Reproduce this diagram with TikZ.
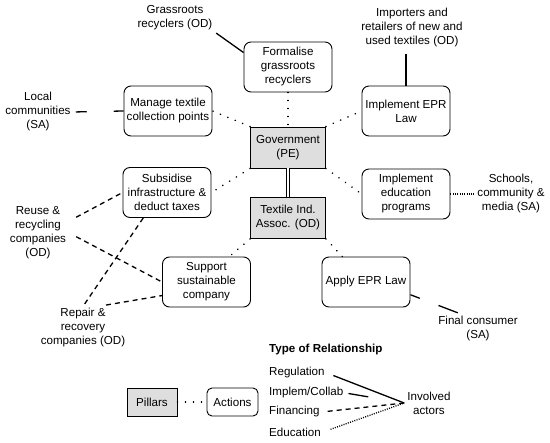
\documentclass[tikz,border=0pt]{standalone}
\usepackage{fontspec}
\setmainfont{Liberation Sans}
\tikzset{>=stealth,
  action/.style={draw, line width=0.9pt, rounded corners=7pt, minimum width=88pt, minimum height=50pt, align=center, inner sep=2pt},
  pillar/.style={draw, line width=0.9pt, fill=black!13, minimum width=75pt, minimum height=41pt, align=center, inner sep=2pt},
  actor/.style={align=center, inner sep=2pt},
  regul/.style={line width=1.3pt},
  collab/.style={line width=1.3pt, dash pattern=on 11pt off 27pt on 11pt off 20pt},
  financ/.style={line width=1.3pt, dash pattern=on 5pt off 4pt},
  educat/.style={line width=1.3pt, dash pattern=on 1pt off 1.3pt},
  link/.style={line width=1.7pt, line cap=round, dash pattern=on 0.1pt off 7.9pt}}

\begin{document}
\begin{tikzpicture}[x=1pt, y=-1pt, font=\fontsize{11.6}{14}\selectfont]
\useasboundingbox (0,0) rectangle (550,443);
\node [action] (form) at (288,67) {Formalise\\grassroots\\recyclers};
\node [pillar] (gov) at (288,147.5) {Government\\(PE)};
\node [pillar] (tia) at (288,218) {Textile Ind.\\Assoc. (OD)};
\node [action] (manage) at (168,111) {Manage textile\\collection points};
\node [action] (epr) at (406,111) {Implement EPR\\Law};
\node [action] (subs) at (167,192.5) {Subsidise\\infrastructure \&\\deduct taxes};
\node [action] (edu) at (406,194) {Implement\\education\\programs};
\node [action] (supp) at (206.5,282) {Support\\sustainable\\company};
\node [action] (apply) at (366,282) {Apply EPR Law};

\node [actor] (grass) at (175,17.5) {Grassroots\\recyclers (OD)};
\node [actor] (imp) at (412,27.5) {Importers and\\retailers of new and\\used textiles (OD)};
\node [actor] (local) at (38,112) {Local\\communities\\(SA)};
\node [actor] (school) at (511,194) {Schools,\\community \&\\media (SA)};
\node [actor] (reuse) at (38,232.5) {Reuse \&\\recycling\\companies\\(OD)};
\node [actor] (repair) at (83,328) {Repair \&\\recovery\\companies (OD)};
\node [actor] (final) at (478,328.5) {Final consumer\\(SA)};

\draw[double, double distance=2.6pt, line width=0.9pt] (gov) -- (tia);
\foreach \a/\b in {form.south/gov.north,gov.north west/manage.east,gov.north east/epr.west,gov.south west/subs.east,gov.south east/edu.west,tia.south west/supp.48,tia.south east/apply.133}
\draw[link] (\a) -- (\b);

\draw[regul, shorten <=2pt] (grass.south east) -- (form.162);
\draw[regul, shorten <=5pt] (epr.north |- imp.south) -- (epr.north);
\draw[collab, shorten <=3pt] (local.east) -- (manage.west);
\draw[collab, dash pattern=on 10pt off 20pt on 30pt, shorten >=3pt] (apply.-16) -- (final.140);
\draw[educat] (edu.east) -- (school.west);
\draw[financ, shorten <=9pt] (reuse.20) -- (subs.west);
\draw[financ, shorten <=9pt] (reuse.east) -- (supp.west);
\draw[financ, shorten <=3pt] (repair.north) -- (subs.227);
\draw[financ, shorten <=8pt] (repair.55) -- (supp.197);

\node [pillar, minimum width=50pt, minimum height=28pt] (pil) at (152,402) {Pillars};
\node [action, rounded corners=5pt, minimum width=51pt, minimum height=28pt] (act) at (232.5,402) {Actions};
\draw[link] (pil.east) -- (act.west);
\node [anchor=west, inner sep=2pt, font=\fontsize{11.6}{14}\selectfont\bfseries] (title) at (267,350) {Type of Relationship};
\node [anchor=west, inner sep=2pt] (reg) at (267,373) {Regulation};
\node [anchor=west, inner sep=2pt] (coll) at (267,393) {Implem/Collab};
\node [anchor=west, inner sep=2pt] (fin) at (267,412) {Financing};
\node [anchor=west, inner sep=2pt] (educ) at (267,432) {Education};
\node [actor, inner sep=3pt] (inv) at (429,403) {Involved\\actors};
\draw[regul, shorten <=7pt] (reg.east) -- (inv.west);
\draw[collab, dash pattern=on 20pt off 60pt, shorten <=3pt] (coll.east) -- (inv.west);
\draw[financ, shorten <=6pt] (fin.east) -- (inv.west);
\draw[educat, shorten <=8pt] (educ.east) -- (inv.west);
\end{tikzpicture}
\end{document}
